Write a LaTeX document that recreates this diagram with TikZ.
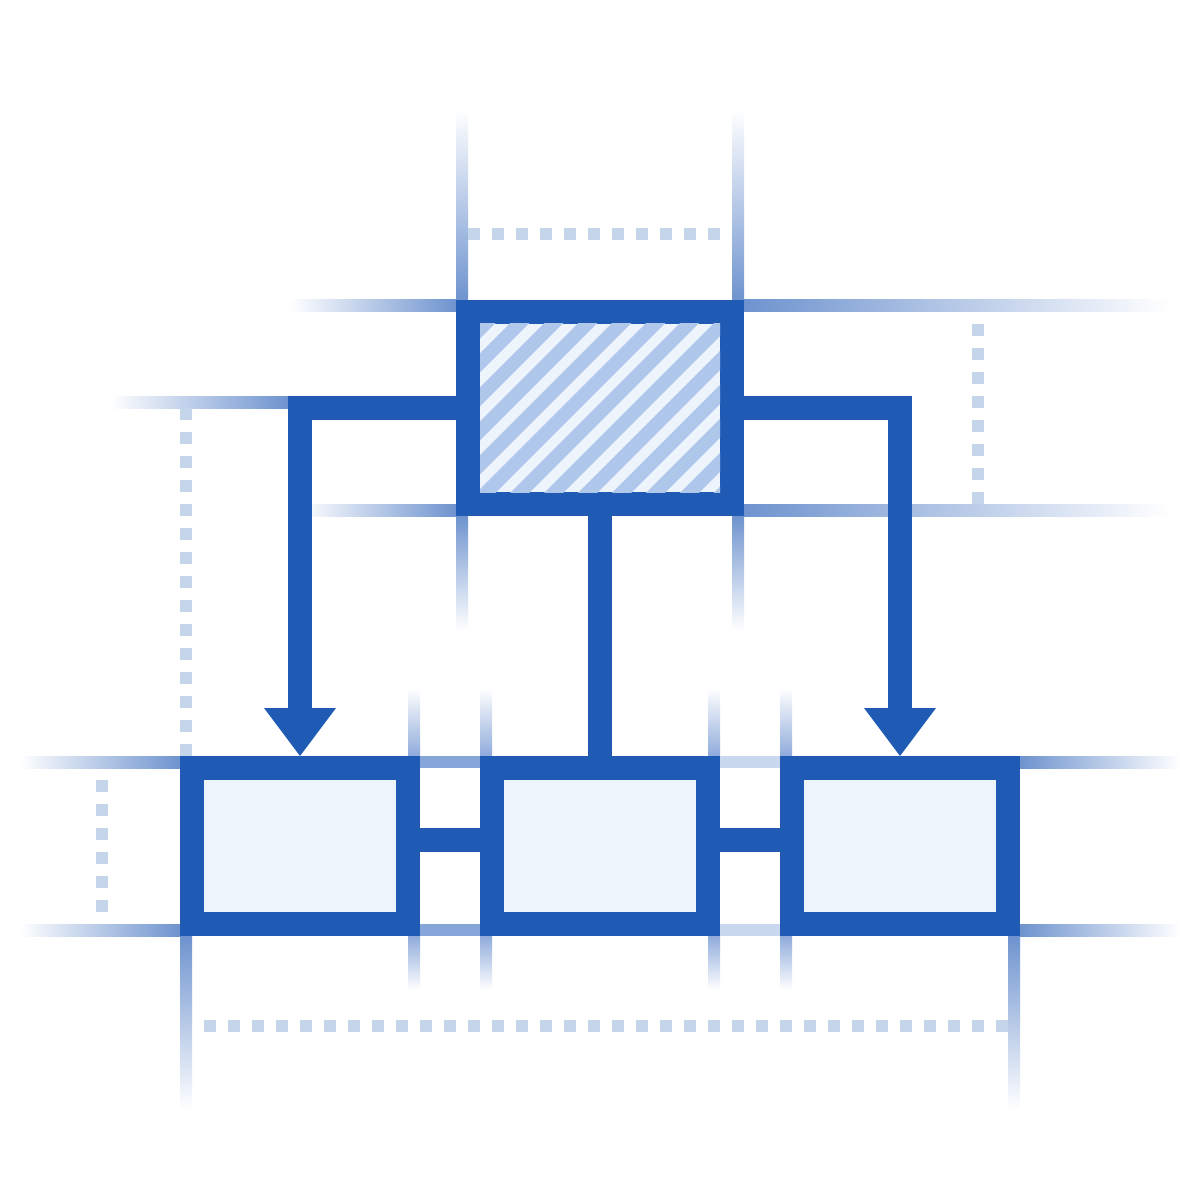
\documentclass[tikz,border=0pt]{standalone}
\usetikzlibrary{calc}
\definecolor{mainblue}{HTML}{1F5BB5}
\definecolor{boxfill}{HTML}{EEF4FC}
\definecolor{hatchc}{HTML}{AFC7EA}
\definecolor{guide}{HTML}{6E93CF}
\definecolor{guidemid}{HTML}{8FABDB}
\definecolor{dotc}{HTML}{C5D5EA}
\definecolor{gapA}{HTML}{86A5D8}
\definecolor{gapB}{HTML}{C9D8EE}
\begin{document}
\begin{tikzpicture}[x=0.2mm,y=-0.2mm,
  bigbox/.style={rectangle, draw=mainblue, fill=boxfill, line width=4.8mm,
    minimum width=52.8mm, minimum height=38.4mm, inner sep=0pt, outer sep=0pt},
  smallbox/.style={rectangle, draw=mainblue, fill=boxfill, line width=4.8mm,
    minimum width=43.2mm, minimum height=31.2mm, inner sep=0pt, outer sep=0pt},
  conn/.style={draw=mainblue, line width=4.8mm, line join=miter},
  headfill/.style={fill=mainblue},
  dotline/.style={draw=dotc, line width=2.4mm, dash pattern=on 2.4mm off 2.4mm},
  hatchline/.style={draw=hatchc, line width=2.7mm},
  fadeR/.style={left color=guide, right color=white},
  fadeL/.style={left color=white, right color=guide},
  fadeUp/.style={top color=white, bottom color=guide},
  fadeDown/.style={top color=guide, bottom color=white},
  fadeUpMid/.style={top color=white, bottom color=guidemid},
  fadeDownMid/.style={top color=guidemid, bottom color=white}]
\useasboundingbox[fill=white] (0,0) rectangle (1200,1200);

% ---- faded guide lines (horizontal)
\fill[fadeL] (290,300) rectangle (456,312);
\fill[fadeR] (744,300) rectangle (1170,312);
\fill[fadeL] (300,504) rectangle (456,516);
\fill[fadeR] (744,504) rectangle (1170,516);
\fill[fadeL] (110,396) rectangle (288,408);
\fill[fadeL] (20,756) rectangle (180,768);
\fill[gapA] (420,756) rectangle (480,768);
\fill[gapB] (720,756) rectangle (780,768);
\fill[fadeR] (1020,756) rectangle (1180,768);
\fill[fadeL] (20,924) rectangle (180,936);
\fill[gapA] (420,924) rectangle (480,936);
\fill[gapB] (720,924) rectangle (780,936);
\fill[fadeR] (1020,924) rectangle (1180,936);

% ---- faded guide lines (vertical)
\fill[fadeUp] (456,110) rectangle (468,300);
\fill[fadeUp] (732,110) rectangle (744,300);
\fill[fadeDown] (456,516) rectangle (468,630);
\fill[fadeDown] (732,516) rectangle (744,630);
\foreach \gx in {408,480,708,780}{
  \fill[fadeUpMid] (\gx,688) rectangle (\gx+12,756);
  \fill[fadeDownMid] (\gx,936) rectangle (\gx+12,990);
}
\fill[fadeDown] (180,936) rectangle (192,1110);
\fill[fadeDown] (1008,936) rectangle (1020,1110);

% ---- dotted dimension lines
\draw[dotline] (468,234) -- (720,234);
\draw[dotline] (186,408) -- (186,756);
\draw[dotline] (978,324) -- (978,504);
\draw[dotline] (102,780) -- (102,912);
\draw[dotline] (204,1026) -- (1008,1026);

% ---- boxes
\node[bigbox] (top) at (600,408) {};
\node[smallbox] (b1) at (300,846) {};
\node[smallbox] (b2) at (600,846) {};
\node[smallbox] (b3) at (900,846) {};

% hatch inside top box
\begin{scope}
  \clip ($(top.north west)+(12,12)$) rectangle ($(top.south east)+(-12,-12)$);
  \foreach \k in {-1,...,18}{
    \draw[hatchline] (267+\k*33.94,542) -- ++(320,-320);
  }
\end{scope}

% ---- connectors
\coordinate (hl) at (300,708);
\coordinate (hr) at (900,708);
\draw[conn] (top.west) -| (hl);
\fill[headfill] ($(hl)+(-36,0)$) -- ($(hl)+(36,0)$) -- ($(b1.north)+(0,-12)$) -- cycle;
\draw[conn] (top.east) -| (hr);
\fill[headfill] ($(hr)+(-36,0)$) -- ($(hr)+(36,0)$) -- ($(b3.north)+(0,-12)$) -- cycle;
\draw[conn] (top.south) -- (b2.north);
\draw[conn] ([yshift=1.2mm]b1.east) -- ([yshift=1.2mm]b2.west);
\draw[conn] ([yshift=1.2mm]b2.east) -- ([yshift=1.2mm]b3.west);
\end{tikzpicture}
\end{document}
